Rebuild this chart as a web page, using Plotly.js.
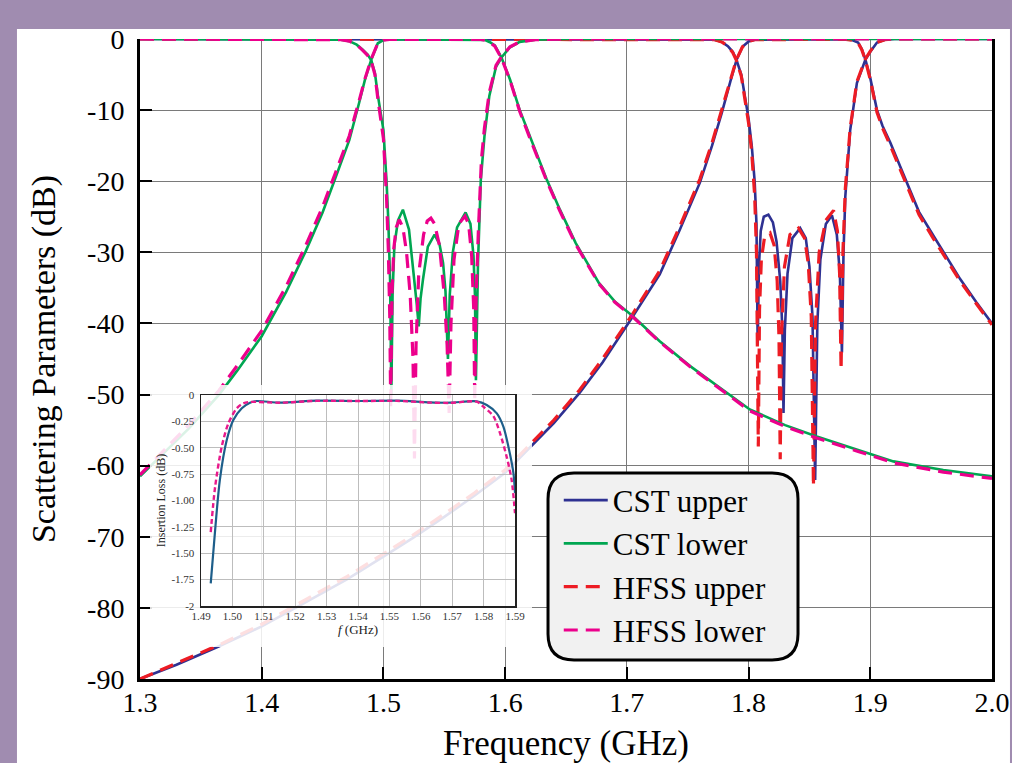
<!DOCTYPE html>
<html>
<head>
<meta charset="utf-8">
<script src="https://cdn.plot.ly/plotly-3.0.1.min.js"></script>
<style>
html,body{margin:0;padding:0;background:#a08cb0;}
#wrap{position:relative;width:1012px;height:763px;overflow:hidden;}
#chart{position:absolute;left:0;top:0;width:1012px;height:763px;}
#inset{position:absolute;left:150px;top:385px;width:382px;height:262px;}
</style>
</head>
<body>
<div id="wrap"><div id="chart"></div><div id="inset"></div></div>
<script>
// ---------- main chart data (frequency in GHz, values in dB) ----------
// upper band: S21 and S11
const fUpS21 = [1.30,1.33,1.365,1.40,1.433,1.47,1.50,1.524,1.55,1.575,1.60,1.62,1.64,1.661,1.68,1.705,1.727,1.7436,1.752,1.76,1.77,1.778,1.785,1.79,1.795,1.80,1.805,1.82,1.85,1.88,1.885,1.89,1.893,1.896,1.90,1.9055,1.91,1.9165,1.93,1.94,1.952,1.963,1.974,1.987,2.00];
const cstUpS21 = [-90,-88,-85.4,-82.6,-79.5,-76,-72.8,-70.2,-67.2,-64.2,-61,-57.5,-54,-49.8,-45.5,-39,-33.1,-26.8,-23.3,-20.2,-15,-10.4,-6,-3,-1.1,-0.35,-0.1,-0.05,-0.05,-0.06,-0.15,-0.5,-1.4,-2.9,-5.5,-10,-12.2,-14.6,-20.2,-24.3,-27.7,-30.8,-33.8,-37,-40];
const hfssUpS21 = [-90,-87.8,-85.2,-82.3,-79.2,-75.6,-72.4,-69.8,-66.8,-63.8,-60.6,-57.1,-53.6,-49.4,-45,-38.6,-32.6,-26.3,-22.8,-19.7,-14.6,-10,-5.8,-2.9,-1.1,-0.35,-0.1,-0.06,-0.06,-0.07,-0.17,-0.55,-1.5,-3,-5.7,-10.3,-12.5,-15,-20.6,-24.7,-28.1,-31.2,-34.1,-37.2,-40.2];

const fUpS11C = [1.30,1.76,1.772,1.778,1.783,1.787,1.79,1.794,1.797,1.80,1.8026,1.805,1.8065,1.8075,1.8085,1.810,1.8125,1.8163,1.820,1.823,1.826,1.8278,1.8287,1.8298,1.832,1.836,1.8424,1.847,1.850,1.8525,1.8547,1.8565,1.859,1.8635,1.8685,1.8725,1.875,1.8767,1.878,1.8795,1.8835,1.889,1.896,1.90,1.9055,1.912,1.92,2.00];
const cstUpS11 = [0,0,-0.1,-0.4,-1,-1.8,-2.9,-5,-8,-11.2,-15,-20,-26,-43,-32,-27,-25,-24.7,-25.8,-28.5,-34,-41,-52.6,-41,-33,-28,-26.6,-28,-32,-39,-62,-40,-31,-26,-24.8,-27.5,-33,-44.1,-30,-22.1,-12.8,-6.2,-2.9,-1.8,-0.5,-0.1,0,0];
const fUpS11H = [1.30,1.76,1.772,1.778,1.783,1.787,1.79,1.794,1.797,1.80,1.8026,1.805,1.8065,1.8072,1.808,1.809,1.8105,1.813,1.8177,1.821,1.8235,1.825,1.826,1.827,1.8295,1.834,1.841,1.846,1.849,1.8515,1.8533,1.855,1.858,1.8635,1.8698,1.873,1.8748,1.876,1.8775,1.8795,1.8835,1.889,1.896,1.90,1.9055,1.912,1.92,2.00];
const hfssUpS11 = [0,0,-0.1,-0.4,-1,-1.9,-3,-5.2,-8.3,-11.8,-16,-22,-30,-40,-57.3,-38,-31,-28,-27.3,-29,-34,-42,-59.1,-42,-32,-27.5,-26.6,-28,-31.5,-39,-62.9,-40,-30,-25.5,-24.1,-27,-33,-46.5,-30,-21,-12.5,-6,-2.8,-1.7,-0.5,-0.1,0,0];

// lower band: S21 and S11
const fLoS21 = [1.30,1.32,1.34,1.365,1.38,1.40,1.42,1.436,1.45,1.46,1.472,1.48,1.485,1.49,1.4954,1.50,1.505,1.52,1.55,1.57,1.58,1.5835,1.5875,1.5915,1.597,1.604,1.612,1.62,1.634,1.645,1.658,1.677,1.69,1.705,1.727,1.752,1.78,1.801,1.83,1.856,1.89,1.919,1.96,2.00];
const cstLoS21 = [-61.5,-58.2,-54.8,-50,-46.6,-41.8,-35.6,-29.9,-24.4,-19.8,-14.2,-9,-5.6,-2.9,-0.6,-0.15,-0.06,-0.05,-0.05,-0.05,-0.06,-0.15,-0.45,-0.9,-2.6,-5.7,-10,-13.6,-19.7,-24,-28.7,-34.3,-36.9,-39,-42.5,-46,-49.5,-52.1,-54.3,-55.9,-57.8,-59.4,-60.6,-61.5];
const hfssLoS21 = [-61.3,-57.8,-54.3,-49.4,-45.9,-41,-34.8,-29.1,-23.6,-19.1,-13.6,-8.7,-5.5,-2.8,-0.6,-0.15,-0.07,-0.06,-0.05,-0.06,-0.07,-0.18,-0.5,-1,-2.7,-5.8,-10.2,-13.8,-19.9,-24.2,-28.9,-34.4,-37,-39.1,-42.6,-46.1,-49.7,-52.3,-54.5,-56.1,-58,-59.6,-60.9,-61.8];

const fLoS11C = [1.30,1.45,1.465,1.472,1.478,1.483,1.487,1.49,1.493,1.4955,1.498,1.50,1.5025,1.504,1.5055,1.5065,1.5075,1.509,1.512,1.516,1.521,1.5255,1.5275,1.529,1.5305,1.5325,1.5365,1.542,1.546,1.549,1.551,1.553,1.5545,1.557,1.5605,1.5675,1.5715,1.574,1.5752,1.576,1.5767,1.5777,1.580,1.583,1.587,1.5925,1.597,1.6037,1.612,1.625,1.65,2.00];
const cstLoS11 = [0,0,-0.1,-0.3,-0.8,-1.5,-2.2,-3,-4.8,-8,-10.8,-12.8,-19.8,-25.5,-34,-50,-36,-29,-25.5,-24,-26.8,-33.8,-37.5,-40.4,-36.5,-33.8,-29.2,-27.5,-28.8,-31.5,-35.5,-45,-36,-30,-26.5,-24.4,-26,-30.5,-36,-48,-38,-31.5,-19.8,-13.7,-8,-3.9,-2.6,-1.2,-0.4,-0.1,0,0];
const fLoS11H = [1.30,1.45,1.465,1.472,1.478,1.483,1.487,1.49,1.493,1.4955,1.498,1.50,1.5025,1.504,1.5052,1.506,1.507,1.5085,1.5105,1.513,1.516,1.519,1.522,1.5243,1.5255,1.5268,1.529,1.533,1.536,1.539,1.542,1.546,1.55,1.5523,1.554,1.5555,1.558,1.562,1.567,1.570,1.5725,1.5742,1.575,1.5762,1.578,1.5805,1.583,1.587,1.5925,1.597,1.604,1.612,1.625,1.65,2.00];
const hfssLoS11 = [0,0,-0.1,-0.3,-0.8,-1.6,-2.3,-3.1,-5,-8.5,-11.5,-14,-22,-29.5,-39,-52,-36,-29.5,-26.5,-25.4,-26.5,-30,-36,-45,-59,-43,-33,-27.5,-25.6,-25.2,-26,-29,-36,-43,-52.6,-40,-31,-26,-24.9,-26,-30.5,-38,-51,-36,-27,-17,-12.5,-7.5,-3.7,-2.5,-1.1,-0.4,-0.1,0,0];

// ---------- inset data: insertion loss (dB) ----------
const fIlCst = [1.4931,1.4945,1.4960,1.4982,1.5003,1.5030,1.5056,1.5077,1.5152,1.5268,1.5406,1.5523,1.5629,1.5693,1.5778,1.5810,1.5842,1.5863,1.5879,1.5895,1.5900];
const ilCst = [-1.785,-1.28,-0.806,-0.427,-0.237,-0.126,-0.073,-0.057,-0.073,-0.054,-0.057,-0.054,-0.07,-0.073,-0.06,-0.095,-0.174,-0.30,-0.49,-0.74,-0.93];
const fIlHfss = [1.4931,1.4945,1.4966,1.4987,1.5014,1.5035,1.5056,1.5152,1.5268,1.5406,1.5523,1.5629,1.5693,1.5778,1.5799,1.5831,1.5852,1.5873,1.5889,1.5900];
const ilHfss = [-1.30,-0.87,-0.49,-0.27,-0.126,-0.079,-0.066,-0.073,-0.056,-0.057,-0.056,-0.072,-0.075,-0.063,-0.11,-0.20,-0.36,-0.58,-0.80,-1.12];

// ---------- ticks & labels ----------
const mainXTicks = [1.3,1.4,1.5,1.6,1.7,1.8,1.9,2.0];
const mainXTickText = ['1.3','1.4','1.5','1.6','1.7','1.8','1.9','2.0'];
const mainYTicks = [0,-10,-20,-30,-40,-50,-60,-70,-80,-90];
const mainYTickText = ['0','-10','-20','-30','-40','-50','-60','-70','-80','-90'];
const insetXTicks = [1.49,1.50,1.51,1.52,1.53,1.54,1.55,1.56,1.57,1.58,1.59];
const insetXTickText = ['1.49','1.50','1.51','1.52','1.53','1.54','1.55','1.56','1.57','1.58','1.59'];
const insetYTicks = [0,-0.25,-0.5,-0.75,-1,-1.25,-1.5,-1.75,-2];
const insetYTickText = ['0','-0.25','-0.50','-0.75','-1.00','-1.25','-1.50','-1.75','-2'];
const seriesNames = ['CST upper','CST lower','HFSS upper','HFSS lower'];

const SERIF = 'Liberation Serif, "Times New Roman", serif';
const cBlue = '#2e3192', cGreen = '#00a651', cRed = '#ed1c24', cMag = '#ec008c';
const solidW = 2.6, dashW = 3.2, dashPat = '14px,8px';

function tr(x, y, name, color, dashed, rank, show) {
  return {
    x: x, y: y, type: 'scatter', mode: 'lines', name: name,
    legendgroup: name, showlegend: show, legendrank: rank, cliponaxis: false,
    line: {color: color, width: dashed ? dashW : solidW, dash: dashed ? dashPat : 'solid'}
  };
}

const data = [
  tr(fUpS21, cstUpS21, seriesNames[0], cBlue, false, 1, true),
  tr(fUpS11C, cstUpS11, seriesNames[0], cBlue, false, 1, false),
  tr(fUpS21, hfssUpS21, seriesNames[2], cRed, true, 3, true),
  tr(fUpS11H, hfssUpS11, seriesNames[2], cRed, true, 3, false),
  tr(fLoS21, cstLoS21, seriesNames[1], cGreen, false, 2, true),
  tr(fLoS11C, cstLoS11, seriesNames[1], cGreen, false, 2, false),
  tr(fLoS21, hfssLoS21, seriesNames[3], cMag, true, 4, true),
  tr(fLoS11H, hfssLoS11, seriesNames[3], cMag, true, 4, false)
];

// rounded legend frame (paper fractions of the plot area)
const lx0 = 0.4789, lx1 = 0.7723, ly0 = 0.0297, ly1 = 0.3219, rx = 0.0305, ry = 0.0406;
const legendPath = `M ${lx0+rx},${ly1} L ${lx1-rx},${ly1} Q ${lx1},${ly1} ${lx1},${ly1-ry} L ${lx1},${ly0+ry} Q ${lx1},${ly0} ${lx1-rx},${ly0} L ${lx0+rx},${ly0} Q ${lx0},${ly0} ${lx0},${ly0+ry} L ${lx0},${ly1-ry} Q ${lx0},${ly1} ${lx0+rx},${ly1} Z`;

const layout = {
  width: 1012, height: 763,
  margin: {l: 140, r: 20, t: 39, b: 84},
  paper_bgcolor: '#a08cb0',
  plot_bgcolor: 'rgba(0,0,0,0)',
  font: {family: SERIF, color: '#000'},
  showlegend: true,
  xaxis: {
    range: [1.3, 2.0], tickvals: mainXTicks, ticktext: mainXTickText,
    ticks: 'inside', ticklen: 12, tickwidth: 2, tickcolor: '#000',
    showline: true, linewidth: 3, linecolor: '#000', mirror: false,
    showgrid: true, gridcolor: '#7a7a7a', gridwidth: 1, zeroline: false,
    tickfont: {family: SERIF, size: 28, color: '#000'}, ticklabelstandoff: -4,
    title: {text: 'Frequency (GHz)', font: {family: SERIF, size: 35, color: '#000'}, standoff: 39}
  },
  yaxis: {
    range: [-90, 0], tickvals: mainYTicks, ticktext: mainYTickText,
    ticks: 'inside', ticklen: 12, tickwidth: 2, tickcolor: '#000',
    showline: true, linewidth: 3, linecolor: '#000', mirror: true,
    showgrid: true, gridcolor: '#7a7a7a', gridwidth: 1, zeroline: false,
    tickfont: {family: SERIF, size: 28, color: '#000'}, ticklabelstandoff: 7,
    title: {text: 'Scattering Parameters (dB)', font: {family: SERIF, size: 34, color: '#000'}, standoff: 22}
  },
  legend: {
    x: 0.4915, y: 0.3212, xanchor: 'left', yanchor: 'top',
    bgcolor: 'rgba(0,0,0,0)', borderwidth: 0,
    font: {family: SERIF, size: 31, color: '#000'},
    itemwidth: 44, tracegroupgap: 0, traceorder: 'normal'
  },
  shapes: [
    {type: 'rect', xref: 'paper', yref: 'paper', x0: -0.1444, x1: 1.0211, y0: -0.14, y1: 1.0156,
     fillcolor: '#ffffff', line: {width: 0}, layer: 'below'},
    {type: 'path', xref: 'paper', yref: 'paper', path: legendPath,
     fillcolor: '#f1f1f1', line: {color: '#000', width: 3}, layer: 'above'}
  ]
};

Plotly.newPlot('chart', data, layout, {displayModeBar: false, staticPlot: true});

// ---------- inset chart (semi-transparent panel laid over the main chart) ----------
const insetData = [
  {x: fIlCst, y: ilCst, type: 'scatter', mode: 'lines', name: 'CST', showlegend: false,
   line: {color: '#1d5e8a', width: 2.2, shape: 'spline', smoothing: 0.8}},
  {x: fIlHfss, y: ilHfss, type: 'scatter', mode: 'lines', name: 'HFSS', showlegend: false,
   line: {color: '#e8198b', width: 2.4, dash: '5px,3px', shape: 'spline', smoothing: 0.8}}
];
const insetLayout = {
  width: 382, height: 262,
  margin: {l: 51, r: 17, t: 10, b: 41},
  paper_bgcolor: 'rgba(255,255,255,0.86)',
  plot_bgcolor: 'rgba(0,0,0,0)',
  font: {family: SERIF, color: '#222'},
  showlegend: false,
  xaxis: {
    range: [1.49, 1.59], tickvals: insetXTicks, ticktext: insetXTickText, ticks: '',
    showline: true, mirror: true, linewidth: 1.5, linecolor: '#222',
    showgrid: true, gridcolor: '#bdbdbd', gridwidth: 1, zeroline: false,
    tickfont: {family: SERIF, size: 11, color: '#333'}, ticklabelstandoff: -1,
    title: {text: '<i>f</i> (GHz)', font: {family: SERIF, size: 13, color: '#222'}, standoff: 4}
  },
  yaxis: {
    range: [-2, 0], tickvals: insetYTicks, ticktext: insetYTickText, ticks: '',
    showline: true, mirror: true, linewidth: 1.5, linecolor: '#222',
    showgrid: true, gridcolor: '#bdbdbd', gridwidth: 1, zeroline: false,
    tickfont: {family: SERIF, size: 11, color: '#333'}, ticklabelstandoff: 3,
    title: {text: 'Insertion Loss (dB)', font: {family: SERIF, size: 12, color: '#222'}, standoff: 3}
  }
};
Plotly.newPlot('inset', insetData, insetLayout, {displayModeBar: false, staticPlot: true});
</script>
</body>
</html>
